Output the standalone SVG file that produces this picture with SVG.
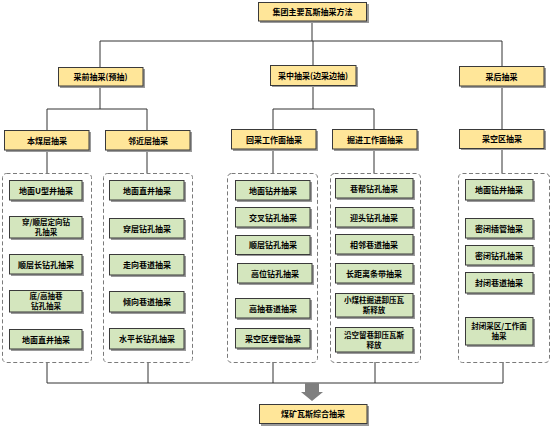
<svg xmlns="http://www.w3.org/2000/svg" width="551" height="426" viewBox="0 0 551 426">
<style>
.y{fill:#FFE699;stroke:#3a3a3a;stroke-width:1}
.g{fill:#D4E6BE;stroke:#3a3a3a;stroke-width:1}
.s{fill:#9a9a9a}
.d{fill:none;stroke:#7a7a7a;stroke-width:1;stroke-dasharray:4,2.5}
.c{fill:none;stroke:#333;stroke-width:1}
text{font-family:"Noto Sans CJK SC","Noto Sans",sans-serif;font-size:8px;font-weight:bold;fill:#000;text-anchor:middle}
text.t{font-size:7.5px}
</style>
<rect width="551" height="426" fill="#fff"/>
<g id="connectors">
<path class="c" d="M312 21V41M100 41H502M100 41V67M313 41V65M502 41V66"/>
<path class="c" d="M100 86V109M47 109H147M47 109V130M147 109V130"/>
<path class="c" d="M313 86V109M273 109H374M273 109V129M374 109V129"/>
<path class="c" d="M502 86V129"/>
<path class="c" d="M47 150V173M147 150V173M273 149V173M374 149V173M502 148V173"/>
<path class="c" d="M47 362V383M148 362V383M273 362V383M375 362V383M503 362V383M47 383H503"/>
<path d="M305 383H319V392H323L312 401L301 392H305Z" fill="#7f7f7f"/>
</g>
<g id="groups">
<rect class="d" x="2.5" y="173.5" width="89" height="189" rx="4"/>
<rect class="d" x="103.5" y="173.5" width="89" height="189" rx="4"/>
<rect class="d" x="227.5" y="173.5" width="90" height="189" rx="4"/>
<rect class="d" x="330.5" y="173.5" width="90" height="189" rx="4"/>
<rect class="d" x="458.5" y="173.5" width="91" height="189" rx="4"/>
</g>
<g id="n0"><rect class="s" x="260" y="4" width="109" height="19"/><rect class="y" x="258.5" y="2.5" width="108" height="18.5"/><text x="312.5" y="15">集团主要瓦斯抽采方法</text></g>
<g id="n1"><rect class="s" x="60" y="69" width="85" height="19"/><rect class="y" x="58.5" y="67.5" width="84.5" height="18.5"/><text x="100.5" y="80">采前抽采(预抽)</text></g>
<g id="n2"><rect class="s" x="272" y="67" width="86" height="20"/><rect class="y" x="270.5" y="65.5" width="85.5" height="20"/><text x="313" y="79">采中抽采(边采边抽)</text></g>
<g id="n3"><rect class="s" x="461" y="68" width="85" height="20"/><rect class="y" x="459.5" y="66.5" width="84.5" height="19.5"/><text x="501.5" y="79.5">采后抽采</text></g>
<g id="n4"><rect class="s" x="6" y="132" width="85" height="20"/><rect class="y" x="4.5" y="130.5" width="84.5" height="19.5"/><text x="47" y="143.5">本煤层抽采</text></g>
<g id="n5"><rect class="s" x="107" y="132" width="85" height="20"/><rect class="y" x="105.5" y="130.5" width="84.5" height="19.5"/><text x="148" y="143.5">邻近层抽采</text></g>
<g id="n6"><rect class="s" x="233" y="131" width="85" height="20"/><rect class="y" x="231.5" y="129.5" width="84.5" height="19.5"/><text x="274" y="142.5">回采工作面抽采</text></g>
<g id="n7"><rect class="s" x="334" y="131" width="85" height="20"/><rect class="y" x="332.5" y="129.5" width="84.5" height="19.5"/><text x="375" y="142.5">掘进工作面抽采</text></g>
<g id="n8"><rect class="s" x="461" y="131" width="85" height="19"/><rect class="y" x="459.5" y="129.5" width="84.5" height="19"/><text x="502" y="142">采空区抽采</text></g>
<g id="n9"><rect class="s" x="261" y="406" width="108" height="20"/><rect class="y" x="259.5" y="404.5" width="107.5" height="19"/><text x="313" y="417">煤矿瓦斯综合抽采</text></g>
<g id="a1"><rect class="s" x="11" y="182" width="73" height="20"/><rect class="g" x="9.5" y="180.5" width="72.5" height="19.5"/><text x="46" y="193.5">地面U型井抽采</text></g>
<g id="a2"><rect class="s" x="11" y="218" width="73" height="22"/><rect class="g" x="9.5" y="216.5" width="72.5" height="21.5"/><text class="t" x="46" y="224.5">穿/顺层定向钻</text><text class="t" x="46" y="234.5">孔抽采</text></g>
<g id="a3"><rect class="s" x="11" y="256" width="73" height="20"/><rect class="g" x="9.5" y="254.5" width="72.5" height="19.5"/><text x="46" y="267.5">顺层长钻孔抽采</text></g>
<g id="a4"><rect class="s" x="11" y="292" width="73" height="22"/><rect class="g" x="9.5" y="290.5" width="72.5" height="21.5"/><text class="t" x="46" y="298.5">底/高抽巷</text><text class="t" x="46" y="308.5">钻孔抽采</text></g>
<g id="a5"><rect class="s" x="11" y="331" width="73" height="20"/><rect class="g" x="9.5" y="329.5" width="72.5" height="19.5"/><text x="46" y="342.5">地面直井抽采</text></g>
<g id="b1"><rect class="s" x="111" y="182" width="75" height="20"/><rect class="g" x="109.5" y="180.5" width="74.5" height="19.5"/><text x="147" y="193.5">地面直井抽采</text></g>
<g id="b2"><rect class="s" x="111" y="220" width="75" height="20"/><rect class="g" x="109.5" y="218.5" width="74.5" height="19.5"/><text x="147" y="231.5">穿层钻孔抽采</text></g>
<g id="b3"><rect class="s" x="111" y="256" width="75" height="21"/><rect class="g" x="109.5" y="254.5" width="74.5" height="20.5"/><text x="147" y="268">走向巷道抽采</text></g>
<g id="b4"><rect class="s" x="111" y="293" width="75" height="21"/><rect class="g" x="109.5" y="291.5" width="74.5" height="20.5"/><text x="147" y="305">倾向巷道抽采</text></g>
<g id="b5"><rect class="s" x="111" y="330" width="75" height="21"/><rect class="g" x="109.5" y="328.5" width="74.5" height="20.5"/><text x="147" y="342">水平长钻孔抽采</text></g>
<g id="c1"><rect class="s" x="237" y="182" width="75" height="20"/><rect class="g" x="235.5" y="180.5" width="74.5" height="19.5"/><text x="273" y="193.5">地面钻井抽采</text></g>
<g id="c2"><rect class="s" x="237" y="209" width="75" height="20"/><rect class="g" x="235.5" y="207.5" width="74.5" height="19.5"/><text x="273" y="220.5">交叉钻孔抽采</text></g>
<g id="c3"><rect class="s" x="237" y="237" width="75" height="19"/><rect class="g" x="235.5" y="235.5" width="74.5" height="19"/><text x="273" y="248">顺层钻孔抽采</text></g>
<g id="c4"><rect class="s" x="239" y="265" width="75" height="20"/><rect class="g" x="237.5" y="263.5" width="74.5" height="19.5"/><text x="275" y="276.5">高位钻孔抽采</text></g>
<g id="c5"><rect class="s" x="237" y="300" width="75" height="20"/><rect class="g" x="235.5" y="298.5" width="74.5" height="19.5"/><text x="273" y="311.5">高抽巷道抽采</text></g>
<g id="c6"><rect class="s" x="237" y="330" width="75" height="20"/><rect class="g" x="235.5" y="328.5" width="74.5" height="19.5"/><text x="273" y="341.5">采空区埋管抽采</text></g>
<g id="e1"><rect class="s" x="337" y="180" width="78" height="20"/><rect class="g" x="335.5" y="178.5" width="77.5" height="19.5"/><text x="374" y="191.5">巷帮钻孔抽采</text></g>
<g id="e2"><rect class="s" x="337" y="209" width="78" height="20"/><rect class="g" x="335.5" y="207.5" width="77.5" height="19.5"/><text x="374" y="220.5">迎头钻孔抽采</text></g>
<g id="e3"><rect class="s" x="337" y="236" width="78" height="20"/><rect class="g" x="335.5" y="234.5" width="77.5" height="19.5"/><text x="374" y="247.5">相邻巷道抽采</text></g>
<g id="e4"><rect class="s" x="337" y="265" width="78" height="20"/><rect class="g" x="335.5" y="263.5" width="77.5" height="19.5"/><text x="374" y="276.5">长距离条带抽采</text></g>
<g id="e5"><rect class="s" x="337" y="295" width="78" height="24"/><rect class="g" x="335.5" y="293.5" width="77.5" height="23.5"/><text class="t" x="374" y="303">小煤柱掘进卸压瓦</text><text class="t" x="374" y="313">斯释放</text></g>
<g id="e6"><rect class="s" x="337" y="329" width="78" height="25"/><rect class="g" x="335.5" y="327.5" width="77.5" height="24.5"/><text class="t" x="374" y="337.5">沿空留巷卸压瓦斯</text><text class="t" x="374" y="347.5">释放</text></g>
<g id="f1"><rect class="s" x="467" y="181" width="68" height="21"/><rect class="g" x="465.5" y="179.5" width="67.5" height="20.5"/><text x="499" y="192.5">地面钻井抽采</text></g>
<g id="f2"><rect class="s" x="467" y="220" width="68" height="20"/><rect class="g" x="465.5" y="218.5" width="67.5" height="19.5"/><text x="499" y="231.5">密闭插管抽采</text></g>
<g id="f3"><rect class="s" x="467" y="247" width="68" height="20"/><rect class="g" x="465.5" y="245.5" width="67.5" height="19.5"/><text x="499" y="258.5">密闭钻孔抽采</text></g>
<g id="f4"><rect class="s" x="467" y="274" width="68" height="21"/><rect class="g" x="465.5" y="272.5" width="67.5" height="20.5"/><text x="499" y="286">封闭巷道抽采</text></g>
<g id="f5"><rect class="s" x="467" y="319" width="68" height="28"/><rect class="g" x="465.5" y="317.5" width="67.5" height="27.5"/><text class="t" x="499" y="328.5">封闭采区/工作面</text><text class="t" x="499" y="339">抽采</text></g>
</svg>
